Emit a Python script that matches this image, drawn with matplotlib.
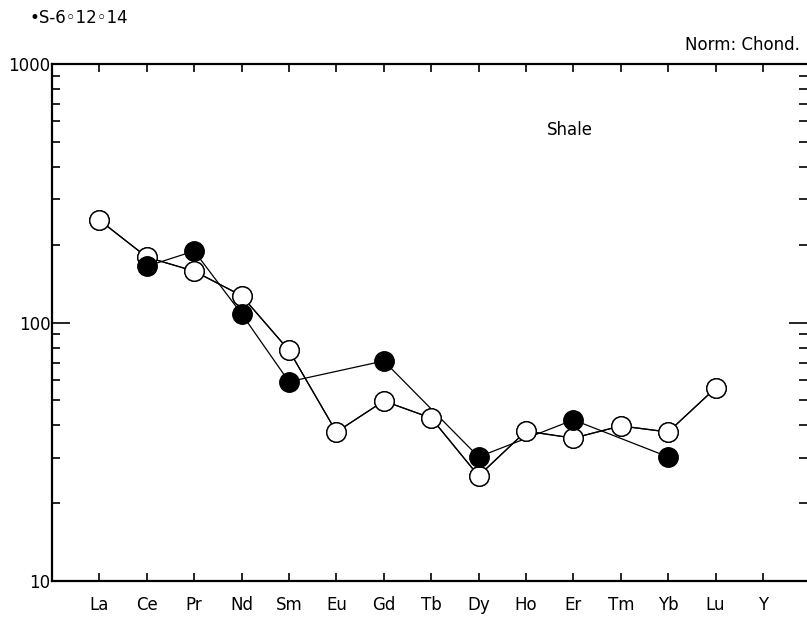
import numpy as np
import matplotlib
matplotlib.use("Agg")
import matplotlib.pyplot as plt
from matplotlib.ticker import LogLocator, NullFormatter, FixedLocator, FixedFormatter

plt.rcParams['font.family'] = ['DejaVu Sans']

elements = ["La", "Ce", "Pr", "Nd", "Sm", "Eu", "Gd", "Tb", "Dy", "Ho", "Er", "Tm", "Yb", "Lu", "Y"]
nan = np.nan
s6 = [nan, 165, 189, 108, 59, nan, 71, nan, 30.2, nan, 42, nan, 30.2, nan, nan]
o12 = [249, 179, 158, 127, 78, 37.7, 49.7, 42.7, 25.5, 38, 35.7, 39.8, 37.7, 55.8, nan]
o14 = [249, 179, 158, 127, 78, 37.7, 49.7, 42.7, 25.5, 38, 35.7, 39.8, 37.7, 55.8, nan]
ytick_vals = [10, 100, 1000]
ytick_labels = ["10", "100", "1000"]

W, H = 807, 626
fig = plt.figure(figsize=(W / 100, H / 100), dpi=100)
L, R, T, B = 52, 807, 64, 581
ax = fig.add_axes([L / W, 1 - B / H, (R - L) / W, (B - T) / H])

x = np.arange(1, len(elements) + 1)

def draw(vals, filled):
    v = np.array(vals, dtype=float)
    m = ~np.isnan(v)
    ax.plot(x[m], v[m], '-', color='black', lw=0.9, zorder=2)
    ax.plot(x[m], v[m], 'o', ms=14, mec='black', mew=1.0,
            mfc='black' if filled else 'white', zorder=3)

draw(o14, False)
draw(o12, False)
draw(s6, True)

ax.set_yscale('log')
ax.set_ylim(10, 1000)
ax.set_xlim(0, (R - L) / 47.4)

ax.set_xticks(x)
ax.set_xticklabels(elements, fontsize=12)
ax.yaxis.set_major_locator(FixedLocator(ytick_vals))
ax.yaxis.set_major_formatter(FixedFormatter(ytick_labels))
ax.yaxis.set_minor_locator(LogLocator(base=10, subs=np.arange(2, 10)))
ax.yaxis.set_minor_formatter(NullFormatter())

ax.tick_params(axis='x', which='both', direction='in', top=True, bottom=True,
               length=6, width=1.2, pad=11, labelsize=12)
ax.tick_params(axis='y', which='major', direction='in', left=True, right=True,
               length=13, width=1.2, pad=1, labelsize=12)
ax.tick_params(axis='y', which='minor', direction='in', left=True, right=True,
               length=6, width=1.2)
ax.spines['right'].set_visible(False)
for s in ['left', 'top', 'bottom']:
    ax.spines[s].set_linewidth(1.6)

fig.text(30 / W, 1 - 18 / H, "\u2022S-6\u25E612\u25E614", fontsize=12,
         va='center', ha='left')
fig.text(800 / W, 1 - 45 / H, "Norm: Chond.", fontsize=12, va='center', ha='right')
fig.text(570 / W, 1 - 130 / H, "Shale", fontsize=12, va='center', ha='center')

fig.savefig("out.png", dpi=100)
